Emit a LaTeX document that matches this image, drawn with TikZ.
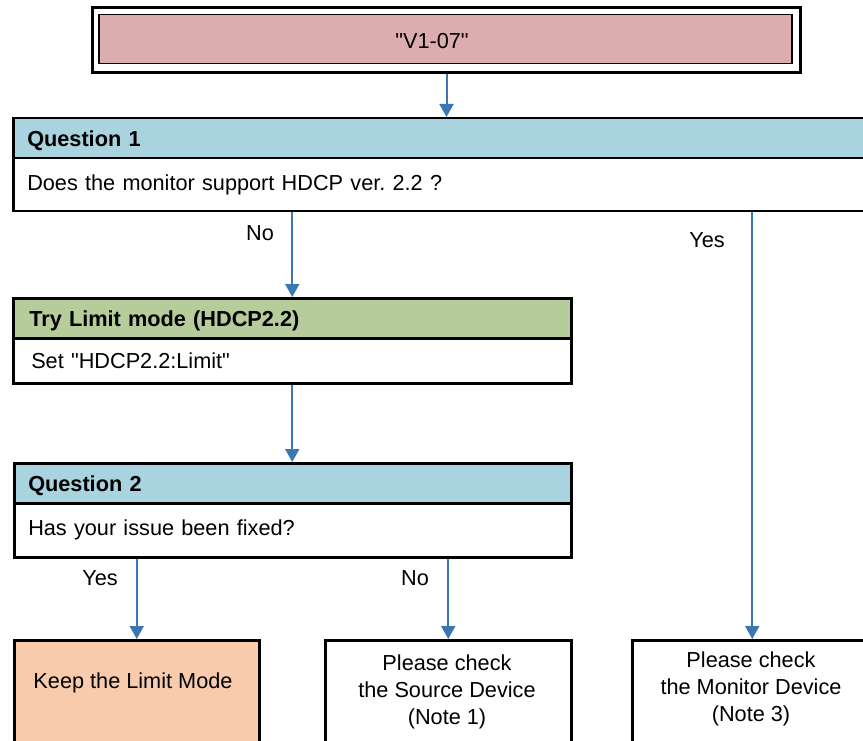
\documentclass[tikz,border=0pt]{standalone}
\usepackage{fontspec}
\setmainfont{Liberation Sans}
\usetikzlibrary{arrows.meta}
\definecolor{pinkf}{HTML}{DBADAE}
\definecolor{bluef}{HTML}{A9D3DF}
\definecolor{greenf}{HTML}{B7CC9B}
\definecolor{peachf}{HTML}{F8CBAC}
\definecolor{arrc}{HTML}{3B77B2}
\frenchspacing
\begin{document}
\begin{tikzpicture}[x=1pt,y=-1pt,
  font=\fontsize{21.7}{27}\selectfont,
  cell/.style={draw=black, line width=2.5, anchor=north west, inner xsep=14, inner ysep=0, align=left},
  hdr/.style={cell, text height=16, text depth=0, font=\fontsize{21.7}{27}\selectfont\bfseries},
  endbox/.style={draw=black, line width=2.5, anchor=north west, inner sep=0},
  arr/.style={draw=arrc, line width=2, -{Triangle[width=14,length=13]}},
  lbl/.style={inner sep=0}
]
\useasboundingbox (0,0) rectangle (863,741);
\clip (0,0) rectangle (863,741);

% top box
\node[endbox, line width=3, minimum width=708, minimum height=65] (outer) at (91,6) {};
\node[endbox, line width=1.5, fill=pinkf, minimum width=693, minimum height=49] (inner) at (98,14) {};
\node[lbl] (v107) at (432,41) {\textquotedbl V1-07\textquotedbl};

% Question 1
\node[hdr, fill=bluef, text width=872, minimum height=40] (q1h) at (12,117) {Question 1};
\node[cell, fill=white, text width=872, minimum height=53] (q1b) at (12,157) {Does the monitor support HDCP ver. 2.2 ?};

% Try Limit mode
\node[hdr, fill=greenf, inner xsep=16, text width=526, minimum height=40] (tryh) at (12,297) {Try Limit mode (HDCP2.2)};
\node[cell, fill=white, inner xsep=18, text width=522, minimum height=45] (tryb) at (12,337) {Set \textquotedbl HDCP2.2:Limit\textquotedbl};

% Question 2
\node[hdr, fill=bluef, text width=529, minimum height=40] (q2h) at (13,462) {Question 2};
\node[cell, fill=white, text width=529, minimum height=54] (q2b) at (13,502) {Has your issue been fixed?};

% end boxes
\node[endbox, fill=peachf, minimum width=245, minimum height=150] (keep) at (13,639) {};
\node[lbl] (keeptxt) at (133,683) {Keep the Limit Mode};
\node[endbox, fill=white, minimum width=246, minimum height=150] (src) at (324,639) {};
\node[lbl, align=center] (srctxt) at (447,692) {Please check\\the Source Device\\(Note 1)};
\node[endbox, fill=white, minimum width=240, minimum height=150] (mon) at (631,639) {};
\node[lbl, align=center] (montxt) at (751,689) {Please check\\the Monitor Device\\(Note 3)};

% connectors
\draw[arr] (outer.south) -- (outer.south |- q1h.north);
\draw[arr] (tryh.north |- q1b.south) -- (tryh.north);
\draw[arr] (mon.north |- q1b.south) -- (mon.north);
\draw[arr] (tryb.south) -- (tryb.south |- q2h.north);
\draw[arr] (keep.north |- q2b.south) -- (keep.north);
\draw[arr] (src.north |- q2b.south) -- (src.north);

% labels
\node[lbl] (lno1) at (260,233) {No};
\node[lbl] (lyes1) at (707,240) {Yes};
\node[lbl] (lyes2) at (100,578) {Yes};
\node[lbl] (lno2) at (415,578) {No};
\end{tikzpicture}
\end{document}
